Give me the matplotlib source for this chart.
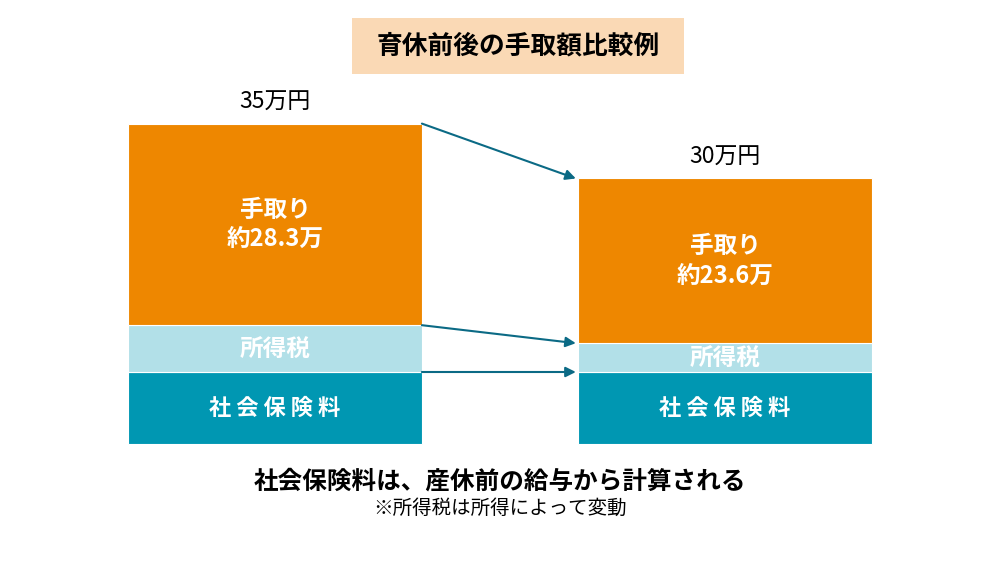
import matplotlib.pyplot as plt
from matplotlib.patches import FancyBboxPatch

plt.rcParams['font.family'] = ['Noto Sans CJK JP', 'DejaVu Sans']

# drawn segment heights (as pictured, arbitrary units)
bars = ["育休前", "育休後"]
shakai = [8.0, 8.0]
shotoku = [5.2, 3.2]
tedori = [22.4, 18.3]
total_labels = ["35万円", "30万円"]
tedori_labels = ["手取り\n約28.3万", "手取り\n約23.6万"]

c_orange = "#EE8700"
c_light = "#B2E0E8"
c_teal = "#0097B2"
c_arrow = "#0B6A85"

fig = plt.figure(figsize=(10, 5.62), dpi=100)
ax = fig.add_axes([0, 0, 1, 1])
w = 0.653
x = [0, 1]

ax.bar(x, shakai, width=w, color=c_teal, edgecolor="white", linewidth=0.8)
ax.bar(x, shotoku, width=w, bottom=shakai, color=c_light, edgecolor="white", linewidth=0.8)
bot3 = [a + b for a, b in zip(shakai, shotoku)]
ax.bar(x, tedori, width=w, bottom=bot3, color=c_orange, edgecolor="white", linewidth=0.8)

for i in range(2):
    top = bot3[i] + tedori[i]
    ax.text(x[i], top + 2.4, total_labels[i], ha="center", va="center", fontsize=16.5)
    ax.text(x[i], bot3[i] + tedori[i] / 2, tedori_labels[i], ha="center", va="center",
            fontsize=17, fontweight="bold", color="white", linespacing=1.3)
    ax.text(x[i], shakai[i] + shotoku[i] / 2 - 0.2, "所得税", ha="center", va="center",
            fontsize=17, fontweight="bold", color="white")
    ax.text(x[i], shakai[i] / 2, "社 会 保 険 料", ha="center", va="center",
            fontsize=16, fontweight="bold", color="white")

# arrows between bars
levels = [
    (bot3[0] + tedori[0], bot3[1] + tedori[1]),
    (bot3[0], bot3[1]),
    (shakai[0], shakai[1]),
]
for y0, y1 in levels:
    ax.annotate("", xy=(x[1] - w / 2 - 0.005, y1), xytext=(x[0] + w / 2, y0),
                arrowprops=dict(arrowstyle="-|>", color=c_arrow, lw=1.5,
                                mutation_scale=15, shrinkA=0, shrinkB=0))

ax.set_xlim(-275 / 450, 725 / 450)
ax.set_ylim(-118 / 9, 444 / 9)
ax.axis("off")

# title box
box = FancyBboxPatch((0.352, 1 - 74 / 562), 0.332, 56 / 562, boxstyle="square,pad=0",
                     transform=fig.transFigure, facecolor="#FAD9B5", edgecolor="none")
fig.patches.append(box)
fig.text(0.518, 1 - 46 / 562, "育休前後の手取額比較例", ha="center", va="center",
         fontsize=18.5, fontweight="bold")

fig.text(0.5, 1 - 482 / 562, "社会保険料は、産休前の給与から計算される", ha="center", va="center",
         fontsize=17.7, fontweight="bold")
fig.text(0.5, 1 - 508 / 562, "※所得税は所得によって変動", ha="center", va="center", fontsize=14)

fig.savefig("out.png", dpi=100)
